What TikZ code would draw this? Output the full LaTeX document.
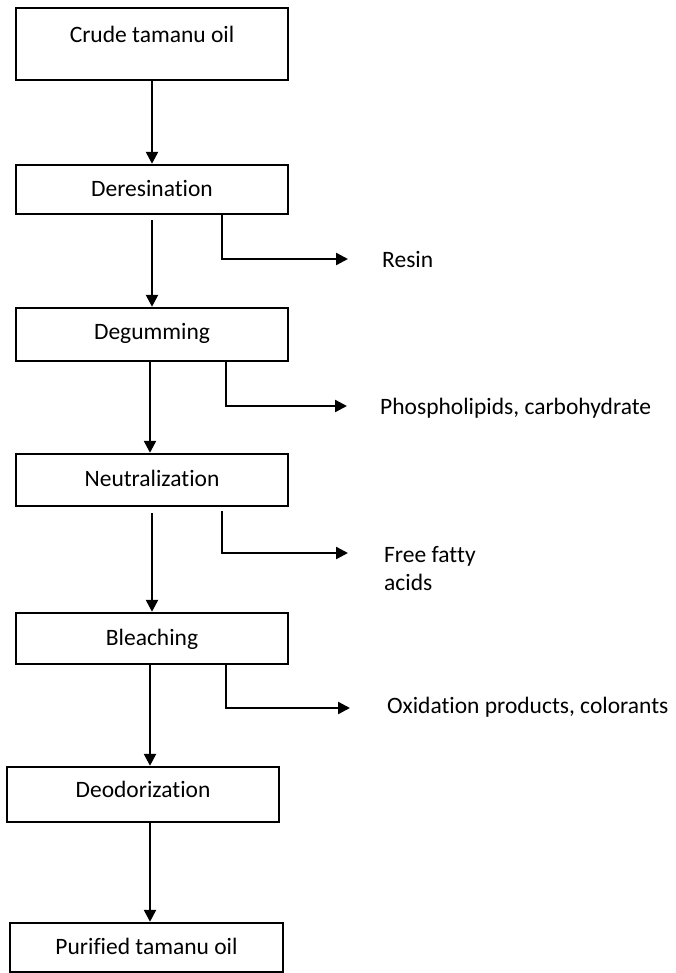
\documentclass[tikz,border=0pt]{standalone}
\usepackage{fontspec}
\setmainfont{Carlito}[Ligatures={NoCommon,NoContextual},RawFeature={-liga;-clig;-calt;-dlig}]
\usetikzlibrary{arrows.meta}
\newcommand{\nl}{\kern0pt }
\begin{document}
\begin{tikzpicture}[x=1pt,y=-1pt,
  box/.style={draw=black, line width=2.4pt, rectangle, inner sep=0pt},
  txt/.style={inner sep=0pt, font=\fontsize{23.5}{28}\selectfont},
  arr/.style={line width=2.4pt, -{Triangle[length=12pt,width=12pt]}}]
\useasboundingbox (0,0) rectangle (676,973);
% boxes
\node[box, minimum width=272pt, minimum height=72pt] (b1) at (152,44) {};
\node[box, minimum width=272pt, minimum height=49pt] (b2) at (152,189.5) {};
\node[box, minimum width=272pt, minimum height=53pt] (b3) at (152,334.5) {};
\node[box, minimum width=272pt, minimum height=52pt] (b4) at (152,480) {};
\node[box, minimum width=272pt, minimum height=51pt] (b5) at (152,638.5) {};
\node[box, minimum width=272pt, minimum height=55pt] (b6) at (143,794.5) {};
\node[box, minimum width=273pt, minimum height=49pt] (b7) at (146.5,947.5) {};
% box texts
\node[txt, anchor=base] (t1) at (152,43) {Crude tamanu oil};
\node[txt, anchor=base] (t2) at (152,197) {Deresinat\nl ion};
\node[txt, anchor=base] (t3) at (152,339) {Degumming};
\node[txt, anchor=base] (t4) at (152,486) {Neutralizat\nl ion};
\node[txt, anchor=base] (t5) at (152,645) {Bleaching};
\node[txt, anchor=base] (t6) at (143,797) {Deodorizat\nl ion};
\node[txt, anchor=base] (t7) at (146.5,954) {Purif\nl ied tamanu oil};
% side texts
\node[txt, anchor=base west] (s1) at (382,268) {Resin};
\node[txt, anchor=base west] (s2) at (380,414) {Phospholipids, carbohydrate};
\node[txt, anchor=base west, align=left] (s3) at (384,590) {Free fat\nl ty\\acids};
\node[txt, anchor=base west] (s4) at (387,713) {Oxidat\nl ion products, colorants};
% branch tips
\coordinate (e1) at (348,259);
\coordinate (e2) at (347,406);
\coordinate (e3) at (348,553);
\coordinate (e4) at (350,708);
% main arrows
\draw[arr] (b1.south) -- (b2.north);
\draw[arr, shorten <=5pt] (b2.south) -- (b3.north);
\draw[arr] ([xshift=-2pt]b3.south) -- ([xshift=-2pt]b3.south |- b4.north);
\draw[arr, shorten <=6pt] (b4.south) -- (b5.north);
\draw[arr] ([xshift=-2pt]b5.south) -- ([xshift=-2pt]b5.south |- b6.north);
\draw[arr] ([xshift=7pt]b6.south) -- ([xshift=7pt]b6.south |- b7.north);
% side branches
\draw[arr] ([xshift=70pt]b2.south) |- (e1);
\draw[arr] ([xshift=74pt]b3.south) |- (e2);
\draw[arr, shorten <=4pt] ([xshift=70pt]b4.south) |- (e3);
\draw[arr] ([xshift=74pt]b5.south) |- (e4);
\end{tikzpicture}
\end{document}
